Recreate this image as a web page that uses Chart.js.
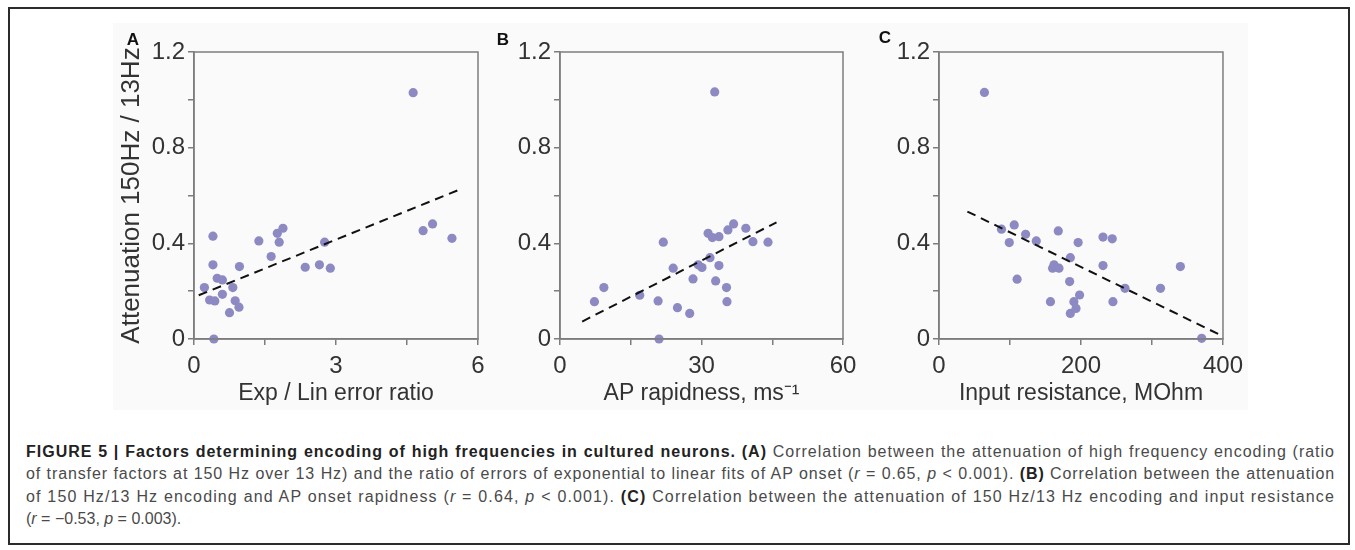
<!DOCTYPE html>
<html>
<head>
<meta charset="utf-8">
<script src="https://cdn.jsdelivr.net/npm/chart.js@4/dist/chart.umd.min.js"></script>
<style>
  body { margin: 0; width: 1355px; height: 550px; background: #fff; position: relative; overflow: hidden;
         font-family: "Liberation Sans", Arial, sans-serif; }
  #frame { position: absolute; left: 8px; top: 7px; width: 1342px; height: 538px; border: 2px solid #2b2b2b; box-sizing: border-box; }
  #shade { position: absolute; left: 113px; top: 23px; width: 1135px; height: 387px; background: #fafafa; }
  .panel { position: absolute; top: 10px; }
  .cap { position: absolute; left: 26px; width: 1309px; font-size: 16px; line-height: 22px; color: #4a4a4a;
         white-space: nowrap; text-align: justify; text-align-last: justify; }
  .cap.last { text-align: left; text-align-last: left; }
  .cap b { color: #222; }
</style>
</head>
<body>
<div id="frame"></div>
<div id="shade"></div>
<canvas id="chartA" class="panel" width="400" height="410" style="left:100px"></canvas>
<canvas id="chartB" class="panel" width="400" height="410" style="left:470px"></canvas>
<canvas id="chartC" class="panel" width="400" height="410" style="left:850px"></canvas>

<div class="cap fit" style="top:441px"><b>FIGURE 5 | Factors determining encoding of high frequencies in cultured neurons. (A)</b> Correlation between the attenuation of high frequency encoding (ratio</div>
<div class="cap fit" style="top:463px">of transfer factors at 150 Hz over 13 Hz) and the ratio of errors of exponential to linear fits of AP onset (<i>r</i> = 0.65, <i>p</i> &lt; 0.001). <b>(B)</b> Correlation between the attenuation</div>
<div class="cap fit" style="top:486px">of 150 Hz/13 Hz encoding and AP onset rapidness (<i>r</i> = 0.64, <i>p</i> &lt; 0.001). <b>(C)</b> Correlation between the attenuation of 150 Hz/13 Hz encoding and input resistance</div>
<div class="cap last" style="top:508px">(<i>r</i> = −0.53, <i>p</i> = 0.003).</div>

<script>
// panel A : exp/lin error ratio vs attenuation
const aX = [4.63, 0.40, 0.40, 0.22, 0.33, 0.44, 0.49, 0.60, 0.60, 0.75, 0.82, 0.87, 0.95, 0.96, 0.42,
            1.37, 1.63, 1.76, 1.80, 1.88, 2.35, 2.65, 2.76, 2.88, 4.84, 5.04, 5.45];
const aY = [1.03, 0.43, 0.31, 0.215, 0.163, 0.159, 0.254, 0.247, 0.187, 0.110, 0.215, 0.160, 0.133, 0.303, 0.0,
            0.41, 0.345, 0.442, 0.405, 0.463, 0.30, 0.31, 0.405, 0.296, 0.453, 0.481, 0.421];
const aFitX = [0.1, 5.6];
const aFitY = [0.183, 0.624];

// panel B : AP rapidness
const bX = [32.8, 7.3, 9.3, 16.9, 20.8, 21.0, 21.9, 24.0, 24.9, 27.5, 28.2, 29.3, 30.1, 31.4, 31.8,
            32.3, 33.0, 33.7, 33.7, 35.3, 35.4, 35.6, 36.8, 39.4, 40.9, 44.1];
const bY = [1.033, 0.156, 0.215, 0.183, 0.159, 0.0, 0.405, 0.296, 0.131, 0.107, 0.251, 0.31, 0.299, 0.442, 0.34,
            0.424, 0.243, 0.428, 0.307, 0.215, 0.156, 0.456, 0.481, 0.463, 0.407, 0.405];
const bFitX = [4.7, 45.9];
const bFitY = [0.073, 0.488];

// panel C : input resistance
const cX = [64, 88, 99, 106, 110, 122, 137, 157, 160, 162, 168, 169, 184, 185, 185,
            190, 193, 196, 198, 231, 231, 244, 245, 262, 312, 340, 370];
const cY = [1.031, 0.459, 0.403, 0.477, 0.25, 0.438, 0.41, 0.156, 0.296, 0.31, 0.452, 0.296, 0.24, 0.34, 0.107,
            0.156, 0.128, 0.403, 0.184, 0.426, 0.307, 0.419, 0.156, 0.212, 0.212, 0.303, 0.003];
const cFitX = [40, 396];
const cFitY = [0.533, 0.017];

// tick labels
const yTickVals = [0, 0.4, 0.8, 1.2];
const yTickLabels = ['0', '0.4', '0.8', '1.2'];
const aTickVals = [0, 3, 6];
const bTickVals = [0, 30, 60];
const cTickVals = [0, 200, 400];

const FONT = '"Liberation Sans", Arial, sans-serif';
const AXIS_GREY = '#7d7d7d';
const DOT = '#8c89c3';

// spread each caption line over the full width (the original is set in a wider face)
document.querySelectorAll('.cap.fit').forEach(el => {
  el.style.width = 'max-content';
  const w = el.offsetWidth;
  const n = el.textContent.length;
  el.style.width = '1309px';
  el.style.letterSpacing = Math.max(0, (1302 - w) / n).toFixed(2) + 'px';
});

function pick(vals, labels) {
  return function (v) {
    const i = vals.findIndex(t => Math.abs(t - v) < 1e-6);
    return i >= 0 ? labels[i] : '';
  };
}

// box round the plot + the panel letter
const boxPlugin = {
  id: 'box',
  afterDraw(chart, args, opts) {
    const ctx = chart.ctx, a = chart.chartArea;
    ctx.save();
    ctx.strokeStyle = AXIS_GREY;
    ctx.lineWidth = 1.5;
    ctx.strokeRect(a.left, a.top, a.right - a.left, a.bottom - a.top);
    ctx.font = 'bold 17px ' + FONT;
    ctx.fillStyle = '#111';
    ctx.textAlign = 'center';
    ctx.textBaseline = 'middle';
    ctx.fillText(opts.letter, opts.lx, opts.ly);
    ctx.restore();
  }
};

function makePanel(id, xs, ys, fx, fy, xMax, xStep, xVals, xTitle, yTitle, letter, yWidth, plotW) {
  const pts = xs.map((x, i) => ({x: x, y: ys[i]}));
  const fit = fx.map((x, i) => ({x: x, y: fy[i]}));
  new Chart(document.getElementById(id), {
    type: 'scatter',
    data: {
      datasets: [
        {type: 'line', data: fit, borderColor: '#111', borderWidth: 2, borderDash: [9, 6],
         pointRadius: 0, fill: false, order: 0},
        {data: pts, backgroundColor: DOT, borderWidth: 0, pointRadius: 4.6, clip: false, order: 1}
      ]
    },
    options: {
      responsive: false,
      animation: false,
      events: [],
      layout: {padding: {top: 42, right: 400 - yWidth - plotW, left: 0, bottom: 0}},
      plugins: {
        legend: {display: false},
        tooltip: {enabled: false},
        box: {letter: letter.text, lx: letter.x, ly: letter.y}
      },
      scales: {
        x: {
          type: 'linear', min: 0, max: xMax,
          afterFit: s => { s.height = 81; },
          grid: {drawOnChartArea: false, drawTicks: true, tickLength: 6, color: AXIS_GREY, lineWidth: 1.5},
          border: {display: true, color: AXIS_GREY, width: 1.5},
          ticks: {stepSize: xStep, autoSkip: false, maxRotation: 0, padding: 7, color: '#333',
                  font: {family: FONT, size: 24}, callback: pick(xVals, xVals.map(String))},
          title: {display: true, text: xTitle, color: '#333', font: {family: FONT, size: 23},
                  padding: {top: 0, bottom: 13}}
        },
        y: {
          type: 'linear', min: 0, max: 1.2,
          afterFit: s => { s.width = yWidth; },
          grid: {drawOnChartArea: false, drawTicks: true, tickLength: 6, color: AXIS_GREY, lineWidth: 1.5},
          border: {display: true, color: AXIS_GREY, width: 1.5},
          ticks: {stepSize: 0.2, autoSkip: false, padding: 3, color: '#333',
                  font: {family: FONT, size: 24}, callback: pick(yTickVals, yTickLabels)},
          title: {display: !!yTitle, text: yTitle || '', color: '#333', font: {family: FONT, size: 26},
                  padding: {top: 16, bottom: 0}}
        }
      }
    },
    plugins: [boxPlugin]
  });
}

makePanel('chartA', aX, aY, aFitX, aFitY, 6, 1.5, aTickVals, 'Exp / Lin error ratio',
          'Attenuation 150Hz / 13Hz', {text: 'A', x: 33, y: 30}, 94, 284);
makePanel('chartB', bX, bY, bFitX, bFitY, 60, 15, bTickVals, 'AP rapidness, ms\u207B\u00B9',
          null, {text: 'B', x: 33, y: 30}, 90, 283);
makePanel('chartC', cX, cY, cFitX, cFitY, 400, 100, cTickVals, 'Input resistance, MOhm',
          null, {text: 'C', x: 35, y: 28}, 89, 284);
</script>
</body>
</html>
